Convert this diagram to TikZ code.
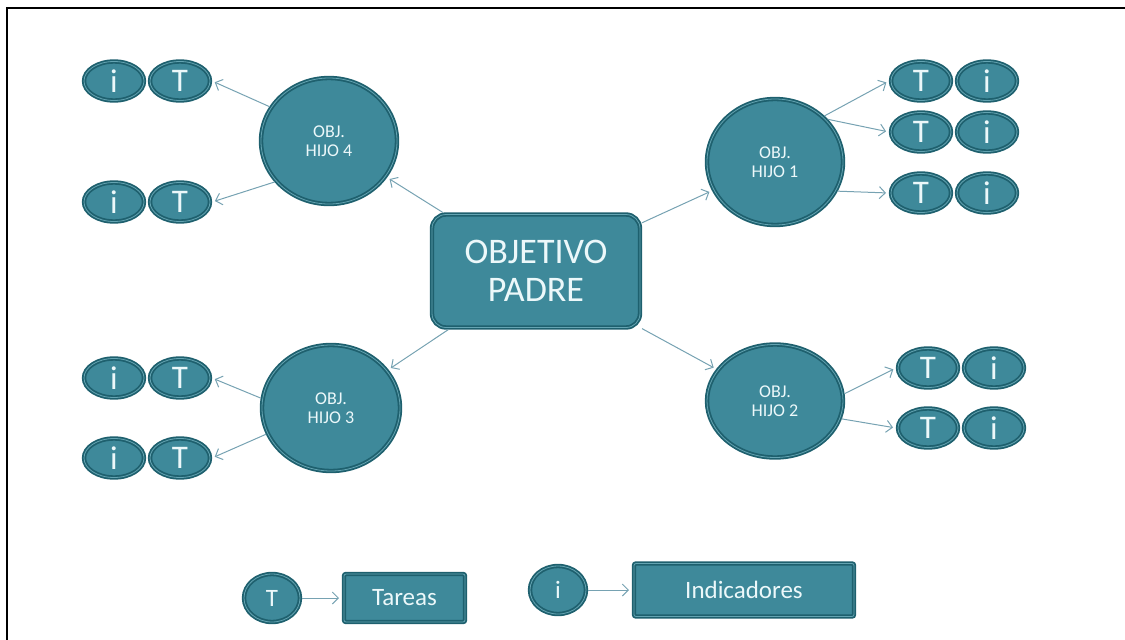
\documentclass[tikz,border=0pt]{standalone}
\usepackage{fontspec}
\setmainfont{Carlito}
\usetikzlibrary{positioning,shapes.geometric,arrows.meta}

\definecolor{tealfill}{RGB}{62,137,154}
\definecolor{tealdark}{RGB}{30,96,110}
\definecolor{teallight}{RGB}{100,164,178}
\definecolor{flechacol}{RGB}{118,162,178}
\definecolor{letra}{RGB}{236,248,250}

\tikzset{
  obj/.style={draw=tealdark, double=teallight, double distance=0.8pt, line width=1.8pt,
    fill=tealfill, text=letra, outer sep=2pt, inner sep=0pt, align=center},
  padre/.style={obj, rounded corners=14pt, minimum width=208pt, minimum height=113pt,
    font=\fontsize{36}{38}\selectfont},
  hijo/.style={obj, ellipse, minimum width=136pt, minimum height=126pt,
    font=\fontsize{18}{19}\selectfont},
  chip/.style={obj, ellipse, minimum width=60pt, minimum height=39pt,
    font=\fontsize{33}{33}\selectfont},
  chipley/.style={chip, minimum width=56pt, minimum height=48pt,
    font=\fontsize{25}{25}\selectfont},
  leyenda/.style={obj, rounded corners=2pt, minimum height=48pt,
    font=\fontsize{25}{25}\selectfont},
  flecha/.style={-{Straight Barb[length=6pt,width=12pt]}, draw=flechacol, line width=1pt,
    shorten >=3pt}
}

\begin{document}
\begin{tikzpicture}[x=1pt, y=-1pt]
  \useasboundingbox (0,0) rectangle (1125,640);
  \draw[line width=2.5pt] (7,640) -- (7,8) -- (1125,8);

  \node[padre] (padre) at (536,271) {OBJETIVO\\PADRE};
  \node[hijo] (hijo1) at (775,162) {OBJ.\\HIJO 1};
  \node[hijo, minimum height=113pt] (hijo2) at (775,401) {OBJ.\\HIJO 2};
  \node[hijo, minimum width=138pt] (hijo3) at (331,408) {OBJ.\\HIJO 3};
  \node[hijo] (hijo4) at (329,141) {OBJ.\\HIJO 4};

  % hijo 1
  \node[chip] (t1a) at (921,81) {T};
  \node[chip, right=2pt of t1a] (i1a) {i};
  \node[chip] (t1b) at (921,132) {T};
  \node[chip, right=2pt of t1b] (i1b) {i};
  \node[chip] (t1c) at (921,193) {T};
  \node[chip, right=2pt of t1c] (i1c) {i};

  % hijo 2
  \node[chip] (t2a) at (928,368) {T};
  \node[chip, right=2pt of t2a] (i2a) {i};
  \node[chip] (t2b) at (928,428) {T};
  \node[chip, right=2pt of t2b] (i2b) {i};

  % hijo 3
  \node[chip] (i3a) at (114,378) {i};
  \node[chip, right=2pt of i3a] (t3a) {T};
  \node[chip] (i3b) at (114,458) {i};
  \node[chip, right=2pt of i3b] (t3b) {T};

  % hijo 4
  \node[chip] (i4a) at (114,81) {i};
  \node[chip, right=2pt of i4a] (t4a) {T};
  \node[chip] (i4b) at (114,202) {i};
  \node[chip, right=2pt of i4b] (t4b) {T};

  \draw[flecha] (padre) -- (hijo1);
  \draw[flecha] (padre) -- (hijo2);
  \draw[flecha] (padre) -- (hijo3);
  \draw[flecha] (padre) -- (hijo4);

  \draw[flecha] (hijo1.43) -- (t1a.west);
  \draw[flecha] (hijo1.39) -- (t1b.west);
  \draw[flecha] (hijo1.-25) -- (t1c.west);
  \draw[flecha] (hijo2.6) -- (t2a.west);
  \draw[flecha] (hijo2.-15) -- (t2b.west);
  \draw[flecha] (hijo3.172) -- (t3a.east);
  \draw[flecha] (hijo3.202) -- (t3b.east);
  \draw[flecha] (hijo4.150) -- (t4a.east);
  \draw[flecha] (hijo4.217) -- (t4b.east);

  % leyenda
  \node[chipley] (legT) at (272,598) {T};
  \node[leyenda, minimum width=121pt, right=40pt of legT] (tareas) {Tareas};
  \node[chipley] (legI) at (558,590) {i};
  \node[leyenda, minimum width=220pt, minimum height=53pt, right=44pt of legI] (indic) {Indicadores};
  \draw[flecha] (legT) -- (tareas);
  \draw[flecha] (legI) -- (indic);
\end{tikzpicture}
\end{document}
